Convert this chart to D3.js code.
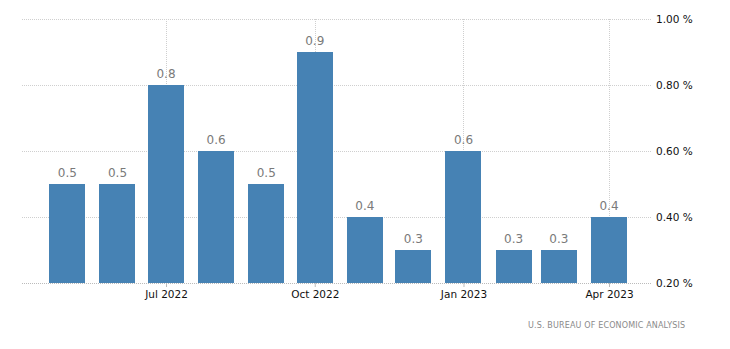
<!DOCTYPE html>
<html>
<head>
<meta charset="utf-8">
<script src="https://cdn.jsdelivr.net/npm/d3@7"></script>
<style>
  html, body { margin: 0; padding: 0; background: #fff; }
  svg { display: block; }
</style>
</head>
<body>
<svg id="chart" width="730" height="349"></svg>
<script>
// Monthly change, May 2022 – Apr 2023
const months = ["2022-05", "2022-06", "2022-07", "2022-08", "2022-09", "2022-10",
                "2022-11", "2022-12", "2023-01", "2023-02", "2023-03", "2023-04"];
const values = [0.5, 0.5, 0.8, 0.6, 0.5, 0.9, 0.4, 0.3, 0.6, 0.3, 0.3, 0.4];
const yTicks = [0.2, 0.4, 0.6, 0.8, 1.0];
const xTickMonths = ["2022-07", "2022-10", "2023-01", "2023-04"];
const source = "U.S. BUREAU OF ECONOMIC ANALYSIS";

const parse = d3.timeParse("%Y-%m");
const data = months.map((m, i) => ({ date: parse(m), value: values[i] }));

const svg = d3.select("#chart");
const plot = { left: 22, right: 651, top: 19, bottom: 283 };

const x = d3.scaleTime()
  .domain([parse("2022-07"), parse("2023-04")])
  .range([166, 609]);

const y = d3.scaleLinear().domain([0.2, 1.0]).range([plot.bottom, plot.top]);

const barW = 36;
const grid = "#cfcfcf";

// horizontal grid
svg.append("g").selectAll("line").data(yTicks).join("line")
  .attr("x1", plot.left).attr("x2", plot.right)
  .attr("y1", d => y(d) + 0.5).attr("y2", d => y(d) + 0.5)
  .attr("stroke", grid).attr("stroke-dasharray", "1,1");

// vertical grid at tick months
const xt = xTickMonths.map(parse);
svg.append("g").selectAll("line").data(xt).join("line")
  .attr("x1", d => Math.round(x(d)) + 0.5).attr("x2", d => Math.round(x(d)) + 0.5)
  .attr("y1", plot.top).attr("y2", plot.bottom)
  .attr("stroke", grid).attr("stroke-dasharray", "1,1");

// bars
svg.append("g").selectAll("rect").data(data).join("rect")
  .attr("x", d => Math.round(x(d.date) - barW / 2))
  .attr("width", barW)
  .attr("y", d => y(d.value))
  .attr("height", d => y(0.2) - y(d.value))
  .attr("fill", "#4682b4");

// value labels
svg.append("g").selectAll("text").data(data).join("text")
  .attr("x", d => x(d.date))
  .attr("y", d => y(d.value) - 7)
  .attr("text-anchor", "middle")
  .attr("font-family", "DejaVu Sans, sans-serif")
  .attr("font-size", 12)
  .attr("fill", "#7a7a7a")
  .text(d => d.value.toFixed(1));

// x axis
const xAxis = d3.axisBottom(x)
  .tickValues(xt)
  .tickSize(4)
  .tickPadding(4)
  .tickFormat(d3.timeFormat("%b %Y"));
const gx = svg.append("g").attr("transform", `translate(0,${plot.bottom})`).call(xAxis);
gx.select(".domain").remove();
gx.selectAll(".tick line").attr("stroke", "#bbb");
gx.selectAll(".tick text")
  .attr("font-family", "DejaVu Sans, sans-serif")
  .attr("font-size", 10.5)
  .attr("fill", "#111");

// baseline
svg.append("line")
  .attr("x1", plot.left).attr("x2", plot.right)
  .attr("y1", plot.bottom + 0.5).attr("y2", plot.bottom + 0.5)
  .attr("stroke", "#bbb").attr("stroke-dasharray", "1,1");

// y axis labels on the right
const yAxis = d3.axisRight(y)
  .tickValues(yTicks)
  .tickSize(0)
  .tickPadding(0)
  .tickFormat(d => d3.format(".2f")(d) + " %");
const gy = svg.append("g").attr("transform", `translate(656,0)`).call(yAxis);
gy.select(".domain").remove();
gy.selectAll(".tick text")
  .attr("font-family", "DejaVu Sans, sans-serif")
  .attr("font-size", 10.5)
  .attr("fill", "#111");

// source note
svg.append("text")
  .attr("x", 528).attr("y", 328)
  .attr("font-family", "DejaVu Sans, sans-serif")
  .attr("font-size", 8)
  .attr("textLength", 157)
  .attr("lengthAdjust", "spacing")
  .attr("fill", "#8a8a8a")
  .text(source);
</script>
</body>
</html>
